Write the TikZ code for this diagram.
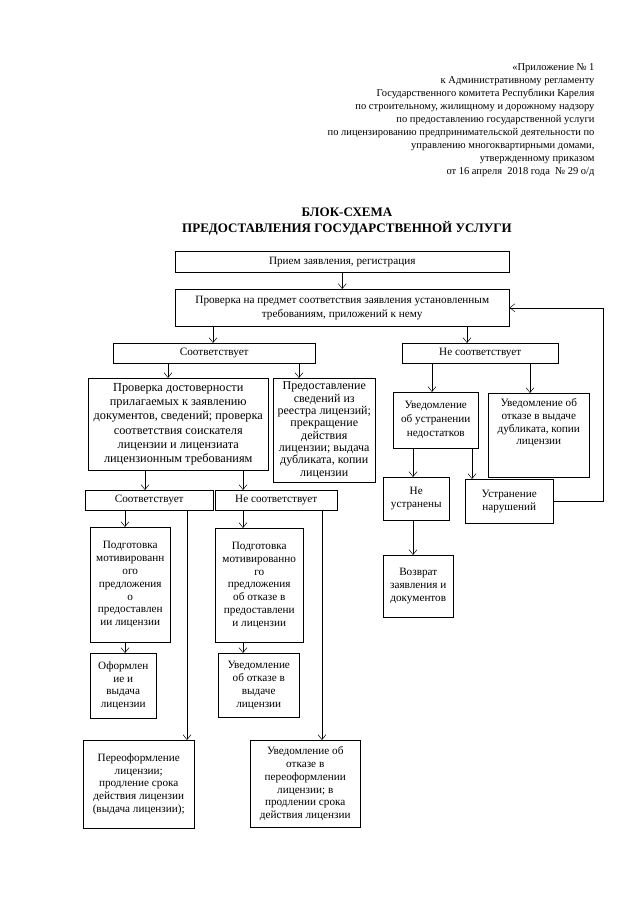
\documentclass[tikz,border=0pt]{standalone}
\usepackage{fontspec}
\setmainfont{Liberation Serif}
\usetikzlibrary{arrows.meta}
\newcommand{\boxfont}{\fontsize{11.2}{12.8}\selectfont}
\newcommand{\bigboxfont}{\fontsize{12.3}{14.2}\selectfont}
\tikzset{
	blk/.style={draw, line width=0.5pt, align=center, inner sep=1pt, anchor=north west, font=\boxfont},
	arr/.style={line width=0.5pt, -{Straight Barb[length=5pt,width=8pt]}},
	lin/.style={line width=0.5pt}
}

\begin{document}
\begin{tikzpicture}[x=1pt, y=-1pt]
		%%%%% START %%%%%
		\useasboundingbox (0, 0) rectangle (639, 901);
		
		\node[anchor=north east, align=right, font=\fontsize{10.5}{13}\selectfont] (head) at (598, 60)
			{«Приложение № 1\\
			к Административному регламенту\\
			Государственного комитета Республики Карелия\\
			по строительному, жилищному и дорожному надзору\\
			по предоставлению государственной услуги\\
			по лицензированию предпринимательской деятельности по\\
			управлению многоквартирными домами,\\
			утвержденному приказом\\
			от 16 апреля\ \ 2018 года\ \ № 29 о/д};
		
		\node[align=center, font=\bfseries\fontsize{13}{16}\selectfont] (title) at (347, 221.5)
			{БЛОК-СХЕМА\\ПРЕДОСТАВЛЕНИЯ ГОСУДАРСТВЕННОЙ УСЛУГИ};
		
		% top
		\node[blk, minimum width=334pt, minimum height=21pt] (priem) at (175, 251) {Прием заявления, регистрация};
		\node[blk, minimum width=334pt, minimum height=37pt, font=\fontsize{11.2}{14}\selectfont] (prov) at (175, 289)
			{Проверка на предмет соответствия заявления установленным\\требованиям, приложений к нему};
		
		\node[blk, minimum width=202pt, minimum height=20pt] (sootv) at (113, 343) {Соответствует};
		\node[blk, minimum width=156pt, minimum height=20pt] (nesootv) at (402, 343) {Не соответствует};
		
		% left branch
		\node[blk, minimum width=180pt, minimum height=92pt, font=\bigboxfont] (dostov) at (88, 378)
			{Проверка достоверности\\прилагаемых к заявлению\\документов, сведений; проверка\\соответствия соискателя\\лицензии и лицензиата\\лицензионным требованиям};
		\node[blk, minimum width=102pt, minimum height=104pt, font=\fontsize{12}{12.3}\selectfont] (reestr) at (273, 378)
			{Предоставление\\сведений из\\реестра лицензий;\\прекращение\\действия\\лицензии; выдача\\дубликата, копии\\лицензии};
		
		\node[blk, minimum width=128pt, minimum height=20pt] (sootv2) at (85, 490) {Соответствует};
		\node[blk, minimum width=122pt, minimum height=20pt] (nesootv2) at (215, 490) {Не соответствует};
		
		\node[blk, minimum width=80pt, minimum height=115pt] (podg1) at (90, 527)
			{Подготовка\\мотивированн\\ого\\предложения\\о\\предоставлен\\ии лицензии};
		\node[blk, minimum width=88pt, minimum height=114pt] (podg2) at (215, 528)
			{Подготовка\\мотивированно\\го\\предложения\\об отказе в\\предоставлени\\и лицензии};
		
		\node[blk, minimum width=66pt, minimum height=65pt] (oform) at (90, 653)
			{Оформлен\\ие и\\выдача\\лицензии};
		\node[blk, minimum width=81pt, minimum height=64pt] (uvotk) at (218, 653)
			{Уведомление\\об отказе в\\выдаче\\лицензии};
		
		\node[blk, minimum width=111pt, minimum height=88pt] (pereof) at (83, 740)
			{Переоформление\\лицензии;\\продление срока\\действия лицензии\\(выдача лицензии);};
		\node[blk, minimum width=110pt, minimum height=87pt] (uvpereof) at (250, 740)
			{Уведомление об\\отказе в\\переоформлении\\лицензии; в\\продлении срока\\действия лицензии};
		
		% right branch
		\node[blk, minimum width=85pt, minimum height=56pt, font=\fontsize{11.2}{14}\selectfont] (uvustr) at (393, 392)
			{Уведомление\\об устранении\\недостатков};
		\node[blk, minimum width=101pt, minimum height=84pt, text depth=27pt] (uvdubl) at (488, 393)
			{Уведомление об\\отказе в выдаче\\дубликата, копии\\лицензии};
		
		\node[blk, minimum width=66pt, minimum height=43pt] (neustr) at (383, 477) {Не\\устранены};
		\node[blk, minimum width=88pt, minimum height=44pt] (ustr) at (465, 479) {Устранение\\нарушений};
		\node[blk, minimum width=70pt, minimum height=62pt] (vozvr) at (383, 555)
			{Возврат\\заявления и\\документов};
		
		% connectors
		\coordinate (xa) at (213, 0);
		\coordinate (xb) at (467, 0);
		\coordinate (xc) at (168, 0);
		\coordinate (xd) at (299, 0);
		\coordinate (xe) at (145, 0);
		\coordinate (xf) at (243, 0);
		\coordinate (xg) at (125, 0);
		\coordinate (xh) at (187, 0);
		\coordinate (xi) at (322, 0);
		\coordinate (xj) at (432, 0);
		\coordinate (xk) at (530, 0);
		\coordinate (xl) at (413, 0);
		\coordinate (xm) at (472, 0);
		\coordinate (fb) at (603, 0);
		
		\draw[arr] (priem) -- (prov);
		\draw[arr] (prov.south -| xa) -- (sootv.north -| xa);
		\draw[arr] (prov.south -| xb) -- (nesootv.north -| xb);
		
		\draw[arr] (sootv.south -| xc) -- (dostov.north -| xc);
		\draw[arr] (sootv.south -| xd) -- (reestr.north -| xd);
		\draw[arr] (dostov.south -| xe) -- (sootv2.north -| xe);
		\draw[arr] (dostov.south -| xf) -- (nesootv2.north -| xf);
		
		\draw[arr] (sootv2.south -| xg) -- (podg1.north -| xg);
		\draw[arr] (podg1.south -| xg) -- (oform.north -| xg);
		\draw[arr] (sootv2.south -| xh) -- (pereof.north -| xh);
		\draw[arr] (nesootv2.south -| xf) -- (podg2.north -| xf);
		\draw[arr] (podg2.south -| xf) -- (uvotk.north -| xf);
		\draw[arr] (nesootv2.south -| xi) -- (uvpereof.north -| xi);
		
		\draw[arr] (nesootv.south -| xj) -- (uvustr.north -| xj);
		\draw[arr] (nesootv.south -| xk) -- (uvdubl.north -| xk);
		\draw[arr] (uvustr.south -| xl) -- (neustr.north -| xl);
		\draw[arr] (uvustr.south -| xm) -- (ustr.north -| xm);
		\draw[arr] (neustr.south -| xl) -- (vozvr.north -| xl);
		\draw[arr] (ustr.east) -- (ustr.east -| fb) -- (prov.east -| fb) -- (prov.east);
		
		%%%%% END %%%%%
	\end{tikzpicture}
\end{document}
